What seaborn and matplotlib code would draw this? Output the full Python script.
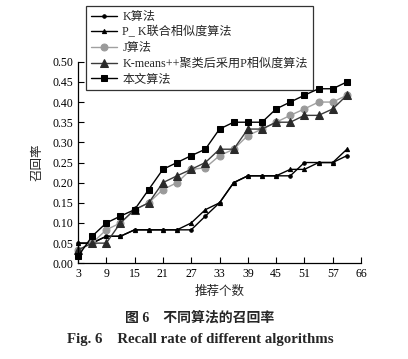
import pandas as pd
import matplotlib
matplotlib.use("Agg")
import matplotlib.pyplot as plt
import seaborn as sns

# Data (recall vs. number of recommendations)
x_vals = [3, 6, 9, 12, 15, 18, 21, 24, 27, 30, 33, 36, 39, 42, 45, 48, 51, 54, 57, 60]
k_alg = [0.05, 0.05, 0.067, 0.067, 0.083, 0.083, 0.083, 0.083, 0.083, 0.117,
         0.15, 0.20, 0.217, 0.217, 0.217, 0.217, 0.25, 0.25, 0.25, 0.267]
pk_alg = [0.05, 0.05, 0.067, 0.067, 0.083, 0.083, 0.083, 0.083, 0.10, 0.133,
          0.15, 0.20, 0.217, 0.217, 0.217, 0.233, 0.233, 0.25, 0.25, 0.283]
j_alg = [0.033, 0.05, 0.083, 0.10, 0.133, 0.15, 0.183, 0.20, 0.233, 0.237,
         0.267, 0.283, 0.317, 0.333, 0.35, 0.367, 0.383, 0.40, 0.40, 0.417]
kmeans_alg = [0.033, 0.05, 0.05, 0.10, 0.133, 0.15, 0.20, 0.217, 0.233, 0.25,
              0.283, 0.283, 0.333, 0.333, 0.35, 0.35, 0.367, 0.367, 0.383, 0.417]
ours = [0.017, 0.067, 0.10, 0.117, 0.133, 0.183, 0.233, 0.25, 0.267, 0.283,
        0.333, 0.35, 0.35, 0.35, 0.383, 0.40, 0.417, 0.433, 0.433, 0.45]

labels = ["K算法", "P_ K联合相似度算法", "J算法", "K-means++聚类后采用P相似度算法", "本文算法"]
x_ticks = [3, 9, 15, 21, 27, 33, 39, 45, 51, 57, 63]
x_ticklabels = ["3", "9", "15", "21", "27", "33", "39", "45", "51", "57", "66"]
y_ticks = [0.0, 0.05, 0.10, 0.15, 0.20, 0.25, 0.30, 0.35, 0.40, 0.45, 0.50]

sns.set_style("ticks")
fonts = ["Liberation Serif", "Noto Sans CJK SC", "DejaVu Sans"]
plt.rcParams["font.family"] = fonts
plt.rcParams["font.size"] = 8
plt.rcParams["axes.unicode_minus"] = False

fig = plt.figure(figsize=(4.08, 3.59), dpi=100)
ax = fig.add_axes([0.191, 0.2666, 0.694, 0.5614])

styles = [
    (k_alg, "o", 2.5, "black", "black"),
    (pk_alg, "^", 3.0, "black", "black"),
    (j_alg, "o", 5.0, "#a0a0a0", "#9a9a9a"),
    (kmeans_alg, "^", 5.5, "#3a3a3a", "#2a2a2a"),
    (ours, "s", 5.0, "black", "black"),
]
for (vals, mk, ms, lc, mc), lab in zip(styles, labels):
    sns.lineplot(x=x_vals, y=vals, ax=ax, marker=mk, markersize=ms, color=lc,
                 markerfacecolor=mc, markeredgecolor=mc, linewidth=1.0,
                 label=lab, clip_on=False)

ax.set_xlim(3, 63)
ax.set_ylim(0, 0.5)
ax.set_xticks(x_ticks)
ax.set_xticklabels(x_ticklabels)
ax.set_yticks(y_ticks)
ax.set_yticklabels([f"{v:.2f}" for v in y_ticks])
ax.tick_params(direction="in", length=4, width=0.8, colors="black", labelsize=8.5)
sns.despine(ax=ax)
for s in ["left", "bottom"]:
    ax.spines[s].set_linewidth(0.9)
    ax.spines[s].set_color("black")

ax.set_xlabel("推荐个数", fontsize=9, labelpad=4)
ax.set_ylabel("召回率", fontsize=9, labelpad=6)

leg = ax.legend(loc="upper left", bbox_to_anchor=(86 / 408, 1 - 6 / 359),
                bbox_transform=fig.transFigure, frameon=True, fancybox=False,
                edgecolor="black", fontsize=8.7, handlelength=2.2,
                labelspacing=0.3, borderpad=0.4, handletextpad=0.4,
                borderaxespad=0)
leg.get_frame().set_linewidth(0.9)

fig.text(0.49, 1 - 318 / 359, "图 6    不同算法的召回率", ha="center", va="center",
         fontsize=10, fontweight="bold")
fig.text(0.49, 1 - 339 / 359, "Fig. 6    Recall rate of different algorithms",
         ha="center", va="center", fontsize=10.7, fontweight="bold")

plt.savefig("out.png", dpi=100)
